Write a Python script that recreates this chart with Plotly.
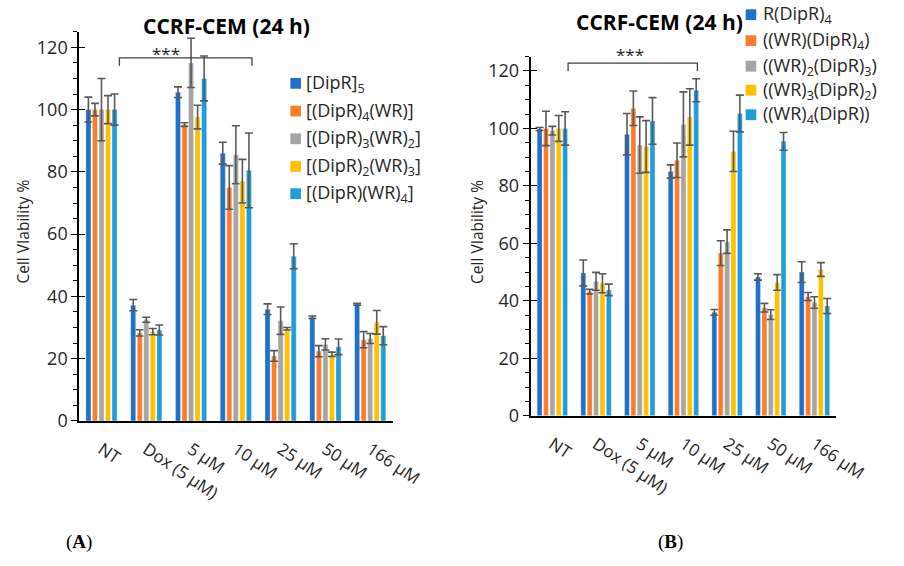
import plotly.graph_objects as go

# Shared categories and series colours
categories = ["NT", "Dox (5 µM)", "5 µM", "10 µM", "25 µM", "50 µM", "166 µM"]
series_colors = ["#1f70c8", "#fb7d2c", "#a5a5a5", "#ffc000", "#1f9ddb"]

# Panel A
names_a = ["[DipR]<sub>5</sub>", "[(DipR)<sub>4</sub>(WR)]", "[(DipR)<sub>3</sub>(WR)<sub>2</sub>]",
           "[(DipR)<sub>2</sub>(WR)<sub>3</sub>]", "[(DipR)(WR)<sub>4</sub>]"]
a_dipr5 = [100, 37.2, 105.6, 86.0, 35.9, 33.3, 37.5]
a_dipr5_err = [4.0, 1.8, 1.7, 3.5, 1.7, 0.4, 0.3]
a_dipr4wr = [100, 28.3, 95.2, 75.0, 20.9, 22.4, 26.1]
a_dipr4wr_err = [2.0, 1.0, 0.6, 7.0, 1.7, 1.8, 2.6]
a_dipr3wr2 = [100, 32.5, 115.0, 85.5, 32.2, 24.6, 26.5]
a_dipr3wr2_err = [10.0, 0.8, 7.9, 9.3, 4.4, 1.8, 1.6]
a_dipr2wr3 = [100, 28.7, 97.6, 77.0, 29.6, 21.4, 31.7]
a_dipr2wr3_err = [4.5, 1.0, 3.8, 7.0, 0.4, 0.7, 3.8]
a_diprwr4 = [100, 29.2, 110.0, 80.5, 52.9, 23.8, 27.4]
a_diprwr4_err = [5.0, 1.6, 7.2, 12.0, 4.0, 2.5, 2.9]

# Panel B
names_b = ["R(DipR)<sub>4</sub>", "((WR)(DipR)<sub>4</sub>)", "((WR)<sub>2</sub>(DipR)<sub>3</sub>)",
           "((WR)<sub>3</sub>(DipR)<sub>2</sub>)", "((WR)<sub>4</sub>(DipR))"]
b_rdipr4 = [99.8, 49.7, 98.0, 85.0, 36.0, 48.3, 50.0]
b_rdipr4_err = [0.5, 4.5, 7.2, 2.3, 1.0, 1.1, 3.6]
b_wrdipr4 = [100, 43.2, 107.0, 88.9, 56.6, 37.6, 41.5]
b_wrdipr4_err = [6.0, 0.8, 6.0, 6.0, 4.3, 1.5, 1.4]
b_wr2dipr3 = [99.2, 46.8, 94.2, 101.4, 60.6, 35.2, 39.4]
b_wr2dipr3_err = [1.5, 3.1, 9.8, 11.3, 4.1, 1.7, 2.0]
b_wr3dipr2 = [100, 46.1, 93.7, 104.0, 92.0, 46.4, 50.9]
b_wr3dipr2_err = [4.5, 3.3, 9.0, 9.8, 7.0, 2.7, 2.4]
b_wr4dipr = [100, 43.8, 102.6, 113.3, 105.2, 95.5, 38.2]
b_wr4dipr_err = [5.8, 2.0, 8.1, 4.0, 6.4, 3.1, 2.6]

panel_a = [a_dipr5, a_dipr4wr, a_dipr3wr2, a_dipr2wr3, a_diprwr4]
panel_a_err = [a_dipr5_err, a_dipr4wr_err, a_dipr3wr2_err, a_dipr2wr3_err, a_diprwr4_err]
panel_b = [b_rdipr4, b_wrdipr4, b_wr2dipr3, b_wr3dipr2, b_wr4dipr]
panel_b_err = [b_rdipr4_err, b_wrdipr4_err, b_wr2dipr3_err, b_wr3dipr2_err, b_wr4dipr_err]

W, H = 904, 566
FONT = "Open Sans"
TXT = "#262626"


def px(x):
    return x / W


def py(y):
    return 1 - y / H


fig = go.Figure()

for axx, axy, vals, errs, names in [("x", "y", panel_a, panel_a_err, names_a),
                                    ("x2", "y2", panel_b, panel_b_err, names_b)]:
    for v, e, n, c in zip(vals, errs, names, series_colors):
        fig.add_trace(go.Bar(
            x=categories, y=v, name=n, xaxis=axx, yaxis=axy,
            marker=dict(color=c, line=dict(color="rgba(255,255,255,0.6)", width=0.6)),
            error_y=dict(type="data", array=e, visible=True, color="#595959",
                         thickness=1.6, width=4),
            showlegend=False,
        ))

# Empty traces carrying the inner half of the major y ticks
fig.add_trace(go.Scatter(x=[None], y=[None], xaxis="x", yaxis="y3", showlegend=False, hoverinfo="skip"))
fig.add_trace(go.Scatter(x=[None], y=[None], xaxis="x2", yaxis="y4", showlegend=False, hoverinfo="skip"))

xcommon = dict(type="category", showline=True, linecolor="black", linewidth=2,
               ticks="", showgrid=False, zeroline=False, tickangle=34,
               tickfont=dict(family=FONT, size=17, color=TXT), ticklabelstandoff=10)
ycommon = dict(range=[0, 125], showline=True, linecolor="black", linewidth=1.6,
               ticks="outside", ticklen=6, tickwidth=1.3, tickcolor="black",
               tickvals=[0, 20, 40, 60, 80, 100, 120], showgrid=False, zeroline=False,
               minor=dict(dtick=5, ticks="outside", ticklen=4, tickwidth=1.2, tickcolor="black"),
               tickfont=dict(family=FONT, size=18, color=TXT))
yinner = dict(range=[0, 125], showline=False, ticks="inside", ticklen=6, tickwidth=1.3,
              tickcolor="black", tickvals=[0, 20, 40, 60, 80, 100, 120],
              showticklabels=False, showgrid=False, zeroline=False)

fig.update_layout(
    width=W, height=H, margin=dict(l=0, r=0, t=0, b=0),
    paper_bgcolor="white", plot_bgcolor="white",
    barmode="group", bargap=0.27, bargroupgap=0.22,
    xaxis=dict(domain=[px(82), px(407)], anchor="y", **xcommon),
    yaxis=dict(domain=[py(429.3), py(32.4)], anchor="x", **ycommon),
    xaxis2=dict(domain=[px(550), px(867)], anchor="y2", **xcommon),
    yaxis2=dict(domain=[py(424), py(57.7)], anchor="x2", **ycommon),
    yaxis3=dict(overlaying="y", anchor="x", **yinner),
    yaxis4=dict(overlaying="y2", anchor="x2", **yinner),
)

ann = []
shapes = []


def label(text, x, y, size, family=FONT, color=TXT, angle=0, xanchor="center"):
    ann.append(dict(text=text, x=px(x), y=py(y), xref="paper", yref="paper",
                    xanchor=xanchor, yanchor="middle", textangle=angle, showarrow=False,
                    font=dict(family=family, size=size, color=color)))


# Titles
label("<b>CCRF-CEM (24 h)</b>", 235, 27, 21, color="black")
label("<b>CCRF-CEM (24 h)</b>", 684, 22, 21, color="black")

# Y-axis titles
label("Cell VIability %", 24, 236, 15.5, angle=-90)
label("Cell VIability %", 495, 236, 15.5, angle=-90)

# Significance brackets
for xa, ya, x0, x1, ylo, yhi in [("x", "y", 0.40, 3.36, 114.1, 116.6),
                                 ("x2", "y2", 0.36, 3.32, 120.0, 122.7)]:
    shapes.append(dict(type="path", xref=xa, yref=ya,
                       path=f"M {x0} {ylo} L {x0} {yhi} L {x1} {yhi} L {x1} {ylo}",
                       line=dict(color="#404040", width=1.3)))
label("***", 172, 55, 17)
label("***", 653, 56, 17)

# Legends
for names, sx, tx, ys in [(names_a, 301, 315, [85, 113.3, 141.5, 169.8, 197.5]),
                          (names_b, 773, 789, [15, 41.5, 67.5, 92, 117])]:
    for n, c, yc in zip(names, series_colors, ys):
        shapes.append(dict(type="rect", xref="paper", yref="paper",
                           x0=px(sx), x1=px(sx + 11), y0=py(yc + 5.5), y1=py(yc - 5.5),
                           fillcolor=c, line=dict(width=0)))
        label(n, tx, yc, 18, xanchor="left")

# Panel labels
label("(<b>A</b>)", 82, 553, 19, family="Liberation Serif", color="black")
label("(<b>B</b>)", 695, 553, 19, family="Liberation Serif", color="black")

fig.update_layout(annotations=ann, shapes=shapes)
fig.write_html("out.html")
